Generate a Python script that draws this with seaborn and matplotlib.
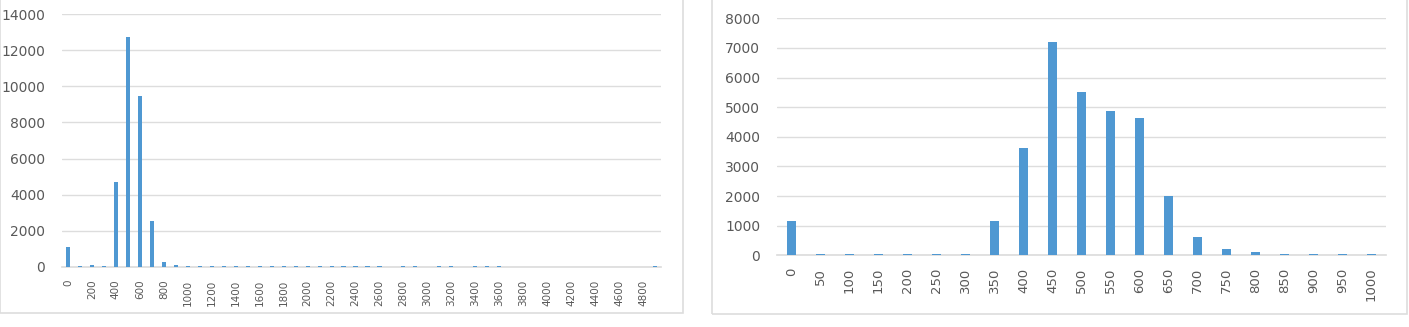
import matplotlib
matplotlib.use("Agg")
import matplotlib.pyplot as plt
import seaborn as sns
import pandas as pd
from matplotlib.patches import Rectangle

# ---- data ----
left_bins = [str(v) for v in range(0, 5000, 100)]
left_counts = [1130, 40, 110, 60, 4730, 12700, 9480, 2570, 300, 120,
               60, 50, 50, 50, 50, 50, 50, 50, 50, 50,
               50, 50, 50, 50, 50, 50, 50, 0, 50, 50,
               0, 50, 50, 0, 50, 50, 50, 0, 0, 0,
               0, 0, 0, 0, 0, 0, 0, 0, 0, 60]
left_yticks = [0, 2000, 4000, 6000, 8000, 10000, 12000, 14000]

right_bins = [str(v) for v in range(0, 1050, 50)]
right_counts = [1160, 60, 60, 60, 60, 60, 60, 1160, 3620, 7200,
                5520, 4870, 4620, 1990, 610, 210, 110, 60, 60, 60, 60]
right_yticks = [0, 1000, 2000, 3000, 4000, 5000, 6000, 7000, 8000]

BLUE = "#4F98D2"
GRID = "#DDDDDD"
TXT = "#595959"

sns.set_theme(style="white")
plt.rcParams["font.family"] = ["DejaVu Sans"]

fig = plt.figure(figsize=(14.09, 3.27), dpi=100)

# panel borders
for (x0, x1, y1) in [(0, 683, 313), (712, 1407, 314)]:
    fig.patches.append(Rectangle((x0 / 1409, 1 - y1 / 327), (x1 - x0) / 1409, y1 / 327 + 0.05,
                                 transform=fig.transFigure, fill=False,
                                 edgecolor=GRID, linewidth=1.2))

axL = fig.add_axes([62 / 1409, 1 - 267 / 327, 599 / 1409, 253 / 327])
axR = fig.add_axes([777 / 1409, 1 - 255.3 / 327, 609 / 1409, 237 / 327])

dfL = pd.DataFrame({"bin": left_bins, "count": left_counts})
dfR = pd.DataFrame({"bin": right_bins, "count": right_counts})

sns.barplot(data=dfL, x="bin", y="count", order=left_bins, ax=axL,
            color=BLUE, saturation=1, width=0.34, linewidth=0)
sns.barplot(data=dfR, x="bin", y="count", order=right_bins, ax=axR,
            color=BLUE, saturation=1, width=0.34, linewidth=0)

def style(ax, yticks, xfs, every):
    ax.set_ylim(yticks[0], yticks[-1])
    ax.set_yticks(yticks)
    ax.set_yticklabels([str(t) for t in yticks], color=TXT, fontsize=10)
    n = len(ax.get_xticks())
    ax.set_xlim(-0.5, n - 0.5)
    ticks = list(range(0, n, every))
    labs = [ax.get_xticklabels()[i].get_text() for i in ticks]
    ax.set_xticks(ticks)
    ax.set_xticklabels(labs, rotation=90, color=TXT, fontsize=xfs)
    ax.tick_params(axis="both", length=0)
    ax.tick_params(axis="y", pad=12)
    ax.tick_params(axis="x", pad=9)
    ax.yaxis.grid(True, color=GRID, linewidth=1)
    ax.set_axisbelow(True)
    for s in ["top", "right", "left"]:
        ax.spines[s].set_visible(False)
    ax.spines["bottom"].set_color(GRID)
    ax.spines["bottom"].set_zorder(0.6)
    for p in ax.patches:
        p.set_zorder(2)
    ax.set_xlabel("")
    ax.set_ylabel("")
    ax.patch.set_alpha(0)

style(axL, left_yticks, 7.5, 2)
style(axR, right_yticks, 9.5, 1)

fig.savefig("out.png", dpi=100)
